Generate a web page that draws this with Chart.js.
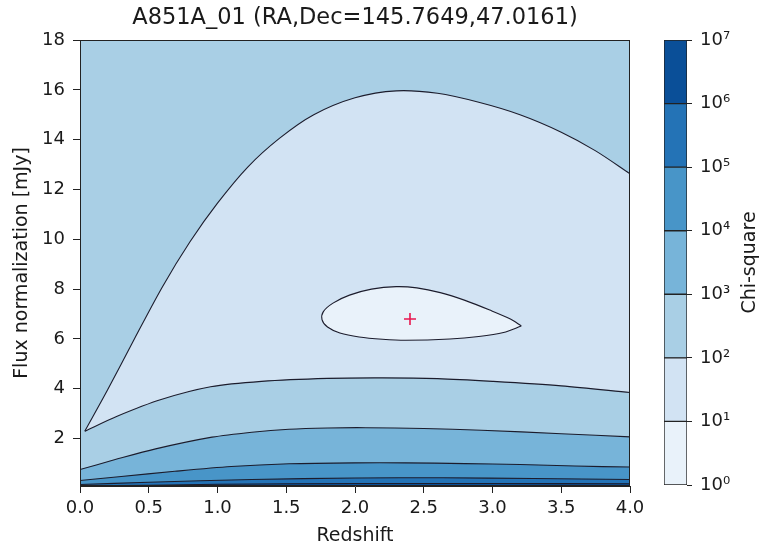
<!DOCTYPE html>
<html>
<head>
<meta charset="utf-8">
<script src="https://cdn.jsdelivr.net/npm/chart.js"></script>
<style>
  html, body { margin: 0; padding: 0; background: #ffffff; }
  #wrap { position: relative; width: 763px; height: 550px; background: #ffffff; }
  #wrap canvas { position: absolute; left: 0; top: 0; }
</style>
</head>
<body>
<div id="wrap">
  <canvas id="main" width="763" height="550"></canvas>
  <canvas id="cbar" width="763" height="550"></canvas>
</div>
<script>
// ---------------- data ----------------
const TITLE = 'A851A_01 (RA,Dec=145.7649,47.0161)';
const X_LABEL = 'Redshift';
const Y_LABEL = 'Flux normalization [mJy]';
const CB_LABEL = 'Chi-square';

const xTicks = [0, 0.5, 1, 1.5, 2, 2.5, 3, 3.5, 4];
const yTicks = [2, 4, 6, 8, 10, 12, 14, 16, 18];

// chi-square contour levels (log spaced) and colorbar labels
const cbLevels = [1, 10, 100, 1000, 10000, 100000, 1000000, 10000000];
const cbTickLabels = ['10⁰', '10¹', '10²', '10³', '10⁴', '10⁵', '10⁶', '10⁷'];
const bandColors = ['#e9f2fa', '#d2e3f3', '#a9cfe5', '#77b4d9', '#4895c8', '#2473b6', '#0a4f98'];

// contour chi2 = 10 (closed curve around best fit)
const level10 = [[3.21,6.52],[3.13,6.80],[2.98,7.16],[2.80,7.55],[2.62,7.86],[2.45,8.05],[2.30,8.10],[2.12,8.00],[1.96,7.76],[1.84,7.44],[1.77,7.10],[1.76,6.78],[1.80,6.48],[1.89,6.24],[2.03,6.08],[2.20,5.99],[2.37,5.95],[2.69,6.00],[2.90,6.10],[3.08,6.26],[3.21,6.52]];
// contour chi2 = 100, upper branch and lower branch (meet at the left tip)
const level100Upper = [[0.035,2.30],[0.20,3.95],[0.40,6.05],[0.60,8.10],[0.80,9.90],[1.00,11.45],[1.22,12.90],[1.45,14.05],[1.70,15.00],[2.00,15.68],[2.30,15.96],[2.60,15.86],[2.90,15.50],[3.20,15.00],[3.50,14.30],[3.75,13.55],[4.00,12.63]];
const level100Lower = [[0.035,2.30],[0.27,2.90],[0.59,3.57],[0.95,4.08],[1.32,4.30],[1.80,4.42],[2.20,4.44],[2.60,4.41],[3.00,4.30],[3.50,4.12],[4.00,3.85]];
// contours chi2 = 1e3 ... 1e6 (span the full redshift range)
const level1e3 = [[0.00,0.76],[0.25,1.15],[0.55,1.59],[0.96,2.06],[1.25,2.26],[1.52,2.38],[1.80,2.43],[2.08,2.44],[2.50,2.41],[2.92,2.34],[3.50,2.20],[4.00,2.07]];
const level1e4 = [[0.00,0.32],[0.30,0.48],[0.69,0.69],[1.10,0.88],[1.52,0.99],[2.00,1.03],[2.36,1.03],[2.80,1.00],[3.20,0.96],[3.60,0.90],[4.00,0.86]];
const level1e5 = [[0.00,0.16],[0.50,0.25],[1.25,0.36],[2.00,0.42],[2.64,0.43],[3.30,0.40],[4.00,0.36]];
const level1e6 = [[0.00,0.11],[0.50,0.13],[1.00,0.17],[2.00,0.20],[3.00,0.20],[4.00,0.19]];
// full-domain fill for the 1e2-1e3 band
const domainTop = [[0, 18], [4, 18]];
// best-fit marker
const bestFit = [[2.40, 6.80]];

// ---------------- helpers ----------------
const FONT = 'DejaVu Sans';
const TXT = '#1a1a1a';
const LINE = '#1c1c2c';
const pts = arr => arr.map(p => ({x: p[0], y: p[1]}));

function contour(data, fill, color, order, extra) {
  return Object.assign({
    data: pts(data), fill: fill, backgroundColor: color,
    borderColor: LINE, borderWidth: 1.1, pointRadius: 0, tension: 0.3, order: order
  }, extra || {});
}

const framePlugin = {
  id: 'frame',
  afterDraw(chart) {
    const a = chart.chartArea, ctx = chart.ctx;
    ctx.save();
    ctx.strokeStyle = '#222';
    ctx.lineWidth = 1;
    ctx.strokeRect(Math.round(a.left) + 0.5, Math.round(a.top) + 0.5,
                   Math.round(a.right - a.left) - 1, Math.round(a.bottom - a.top) - 1);
    ctx.restore();
  }
};

// ---------------- main contour chart ----------------
new Chart(document.getElementById('main'), {
  type: 'line',
  data: {
    datasets: [
      {data: pts(bestFit), showLine: false, pointStyle: 'cross', pointRadius: 6,
       pointBorderColor: '#e8174f', pointBorderWidth: 1.6, order: 0},
      contour(level10, 'shape', bandColors[0], 1),
      contour(level100Upper, '+1', bandColors[1], 3),
      contour(level100Lower, false, 'transparent', 2),
      contour(level1e6, 'start', bandColors[6], 6),
      contour(level1e5, 'start', bandColors[5], 7),
      contour(level1e4, 'start', bandColors[4], 8),
      contour(level1e3, 'start', bandColors[3], 9),
      contour(domainTop, 'start', bandColors[2], 10, {borderWidth: 0, tension: 0})
    ]
  },
  options: {
    responsive: false, animation: false, devicePixelRatio: 1,
    layout: {padding: {left: 0, right: 133, top: 0, bottom: 0}},
    plugins: {
      legend: {display: false}, tooltip: {enabled: false},
      title: {display: true, text: TITLE, fullSize: false, color: TXT,
              font: {family: FONT, size: 22.5, weight: 'normal'}, padding: {top: 5, bottom: 8}}
    },
    scales: {
      x: {
        type: 'linear', min: 0, max: 4,
        afterBuildTicks: s => { s.ticks = xTicks.map(v => ({value: v})); },
        afterFit: s => { s.height = 64; },
        ticks: {color: TXT, font: {family: FONT, size: 18}, padding: 5, maxRotation: 0,
                callback: v => Number(v).toFixed(1)},
        grid: {drawOnChartArea: false, drawTicks: true, tickLength: 7, color: '#222'},
        border: {color: '#222', width: 1},
        title: {display: true, text: X_LABEL, color: TXT, font: {family: FONT, size: 19},
                padding: {top: 0, bottom: 3}}
      },
      y: {
        type: 'linear', min: 0.1, max: 18,
        afterBuildTicks: s => { s.ticks = yTicks.map(v => ({value: v})); },
        afterFit: s => { s.width = 80; },
        ticks: {color: TXT, font: {family: FONT, size: 18}, padding: 8,
                callback: v => String(v)},
        grid: {drawOnChartArea: false, drawTicks: true, tickLength: 7, color: '#222'},
        border: {color: '#222', width: 1},
        title: {display: true, text: Y_LABEL, color: TXT, font: {family: FONT, size: 19},
                padding: {top: 11, bottom: 0}}
      }
    }
  },
  plugins: [framePlugin]
});

// ---------------- colorbar ----------------
const cbLabelPlugin = {
  id: 'cbLabel',
  afterDraw(chart) {
    const a = chart.chartArea, ctx = chart.ctx;
    ctx.save();
    ctx.fillStyle = TXT;
    ctx.font = '19px "' + FONT + '"';
    ctx.textAlign = 'center';
    ctx.textBaseline = 'middle';
    ctx.translate(750, (a.top + a.bottom) / 2);
    ctx.rotate(-Math.PI / 2);
    ctx.fillText(CB_LABEL, 0, 0);
    ctx.restore();
  }
};

const cbDatasets = bandColors.map((c, i) => ({
  data: [[cbLevels[i], cbLevels[i + 1]]],
  backgroundColor: c, borderColor: '#222', borderWidth: 1, borderSkipped: false,
  grouped: false, barPercentage: 1, categoryPercentage: 1
}));

new Chart(document.getElementById('cbar'), {
  type: 'bar',
  data: {labels: ['chi2'], datasets: cbDatasets},
  options: {
    responsive: false, animation: false, devicePixelRatio: 1,
    layout: {padding: {left: 664, right: 0, top: 40, bottom: 65}},
    plugins: {legend: {display: false}, tooltip: {enabled: false}},
    scales: {
      x: {display: false},
      y: {
        type: 'logarithmic', position: 'right', min: cbLevels[0], max: cbLevels[cbLevels.length - 1],
        afterBuildTicks: s => { s.ticks = cbLevels.map(v => ({value: v})); },
        afterFit: s => { s.width = 76; },
        ticks: {color: TXT, font: {family: FONT, size: 18}, padding: 8,
                callback: (v, i) => cbTickLabels[i]},
        grid: {drawOnChartArea: false, drawTicks: true, tickLength: 5, color: '#222'},
        border: {display: false}
      }
    }
  },
  plugins: [cbLabelPlugin]
});
</script>
</body>
</html>
